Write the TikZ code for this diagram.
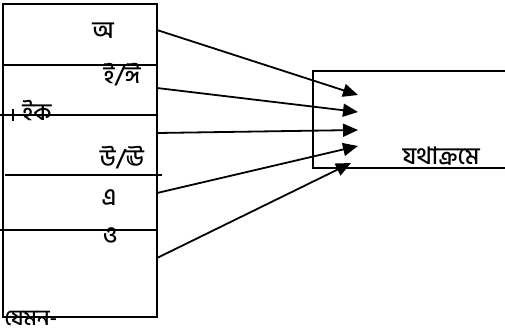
\documentclass[tikz,border=0pt]{standalone}
\usepackage{fontspec}
\newfontfamily\bnfont[Script=Bengali, UprightFont={* Medium}]{Hind Siliguri}
\usetikzlibrary{arrows.meta, positioning}

\begin{document}
\begin{tikzpicture}[
  x=1pt, y=-1pt,
  every node/.style={font=\bnfont\fontsize{24}{26}\selectfont, inner sep=0pt},
  tbl/.style={
    rectangle, draw=black, line width=1.8pt,
    minimum width=154pt, minimum height=313pt},
  rule/.style={draw=black, line width=1.8pt},
  arr/.style={
    -{Triangle[length=15pt,width=13pt]},
    draw=black, line width=1.8pt},
]

\useasboundingbox (0,0) rectangle (505,335);

\node[tbl] (vowels) at (80, 160.5) {};

\draw[rule] (2, 65)  -- (157, 65);
\draw[rule] (0, 115) -- (157, 115);
\draw[rule] (5, 175) -- (162, 175);
\draw[rule] (0, 230) -- (157, 230);
\draw[rule] (13, 109) -- (13, 121);

% letters
\node (a)   at (103, 31)  {অ};
\node (i)   at (122, 75)  {ই/ঈ};
\node (ik)  at (37, 111)  {ইক};
\node (u)   at (122, 158) {উ/ঊ};
\node (e)   at (109, 198) {এ};
\node (o)   at (110, 236) {ও};
\node[font=\bnfont\fontsize{22}{24}\selectfont] (jmn) at (31, 318) {যেমন-};

% right box, open to the right
\draw[rule] (505, 71) -- (313, 71) -- (313, 168) -- (505, 168);
\node (krm) at (441, 156) {যথাক্রমে};

\coordinate (s1) at (157, 30);
\coordinate (s2) at (157, 88);
\coordinate (s3) at (157, 133);
\coordinate (s4) at (157, 193);
\coordinate (s5) at (157, 258);
\coordinate (t1) at (358, 95);
\coordinate (t2) at (358, 112);
\coordinate (t3) at (358, 130);
\coordinate (t4) at (358, 146);
\coordinate (t5) at (351, 163);

\draw[arr] (s1) -- (t1);
\draw[arr] (s2) -- (t2);
\draw[arr] (s3) -- (t3);
\draw[arr] (s4) -- (t4);
\draw[arr] (s5) -- (t5);

\end{tikzpicture}
\end{document}
